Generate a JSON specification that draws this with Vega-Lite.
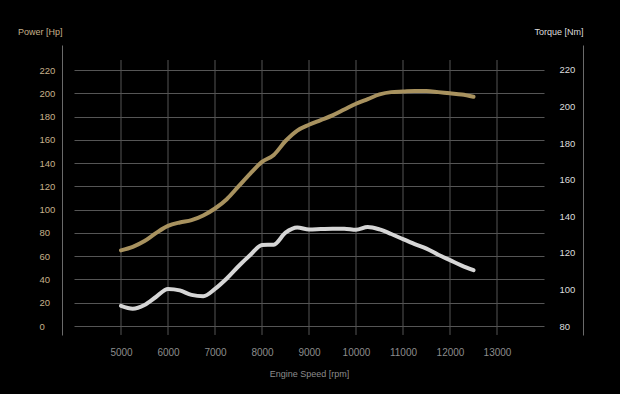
{
  "$schema": "https://vega.github.io/schema/vega-lite/v6.json",
  "autosize": "none",
  "width": 470,
  "height": 290,
  "padding": {"left": 74, "top": 45, "right": 76, "bottom": 59},
  "background": "#000000",
  "config": {
    "view": {"stroke": null},
    "font": "Liberation Sans"
  },
  "datasets": {
    "curves": [
      {"rpm": 5000, "power": 65, "torque": 91},
      {"rpm": 5250, "power": 68, "torque": 89.5},
      {"rpm": 5500, "power": 73, "torque": 91.5},
      {"rpm": 5750, "power": 80, "torque": 96},
      {"rpm": 6000, "power": 86, "torque": 100.3},
      {"rpm": 6250, "power": 89, "torque": 99.5},
      {"rpm": 6500, "power": 91, "torque": 97},
      {"rpm": 6750, "power": 95, "torque": 96.3},
      {"rpm": 7000, "power": 101, "torque": 100.3},
      {"rpm": 7250, "power": 109, "torque": 106},
      {"rpm": 7500, "power": 120, "torque": 112.7},
      {"rpm": 7750, "power": 131, "torque": 118.8},
      {"rpm": 8000, "power": 141, "torque": 124.3},
      {"rpm": 8250, "power": 147, "torque": 124.5},
      {"rpm": 8500, "power": 159, "torque": 131},
      {"rpm": 8750, "power": 168, "torque": 133.8},
      {"rpm": 9000, "power": 173, "torque": 132.8},
      {"rpm": 9250, "power": 177, "torque": 133},
      {"rpm": 9500, "power": 181, "torque": 133.2},
      {"rpm": 9750, "power": 186, "torque": 133.2},
      {"rpm": 10000, "power": 191, "torque": 132.6},
      {"rpm": 10250, "power": 195, "torque": 134.1},
      {"rpm": 10500, "power": 199, "torque": 132.8},
      {"rpm": 10750, "power": 201, "torque": 130.3},
      {"rpm": 11000, "power": 201.5, "torque": 127.5},
      {"rpm": 11250, "power": 202, "torque": 124.8},
      {"rpm": 11500, "power": 202, "torque": 122.3},
      {"rpm": 11750, "power": 201, "torque": 119},
      {"rpm": 12000, "power": 200, "torque": 116},
      {"rpm": 12250, "power": 199, "torque": 113},
      {"rpm": 12500, "power": 197, "torque": 110.5}
    ],
    "vgrid": [
      {"rpm": 5000}, {"rpm": 6000}, {"rpm": 7000}, {"rpm": 8000}, {"rpm": 9000},
      {"rpm": 10000}, {"rpm": 11000}, {"rpm": 12000}, {"rpm": 13000}
    ]
  },
  "layer": [
    {
      "data": {"name": "vgrid"},
      "mark": {"type": "rule", "color": "#555555", "strokeWidth": 1},
      "encoding": {
        "x": {
          "field": "rpm", "type": "quantitative",
          "scale": {"domain": [4000, 14000], "nice": false, "zero": false},
          "axis": {
            "values": [5000, 6000, 7000, 8000, 9000, 10000, 11000, 12000, 13000],
            "format": "d", "labelOverlap": false,
            "grid": false, "domain": false, "ticks": false, "tickSize": 0,
            "labelPadding": 12, "labelFontSize": 10, "labelColor": "#8c8c8c",
            "labelFont": "Liberation Sans",
            "title": "Engine Speed [rpm]", "titleFontSize": 9, "titleFontWeight": "normal",
            "titleColor": "#8c8c8c", "titleFont": "Liberation Sans",
            "titleY": 38, "titleBaseline": "middle"
          }
        },
        "y": {
          "datum": 228.6, "type": "quantitative",
          "scale": {"domain": [-7.73, 241.5], "nice": false, "zero": false},
          "axis": null
        },
        "y2": {"datum": -7.7}
      }
    },
    {
      "data": {"name": "curves"},
      "mark": {"type": "line", "interpolate": "monotone", "color": "#a8925f", "strokeWidth": 4, "strokeCap": "round"},
      "encoding": {
        "x": {"field": "rpm", "type": "quantitative"},
        "y": {
          "field": "power", "type": "quantitative",
          "scale": {"domain": [-7.73, 241.5], "nice": false, "zero": false},
          "axis": {
            "orient": "left", "offset": 12,
            "values": [0, 20, 40, 60, 80, 100, 120, 140, 160, 180, 200, 220],
            "labelOverlap": false,
            "grid": true, "gridColor": "#555555", "gridWidth": 1,
            "domain": true, "domainColor": "#6a6a6a", "domainWidth": 1,
            "ticks": false, "tickSize": 0,
            "labelAlign": "left", "labelPadding": 23, "labelBaseline": "middle",
            "labelFontSize": 9.5, "labelColor": "#c7b08a", "labelFont": "Liberation Sans",
            "title": "Power [Hp]", "titleAngle": 0, "titleAlign": "right", "titleBaseline": "middle",
            "titleX": 0, "titleY": -14, "titleFontSize": 9, "titleFontWeight": "normal",
            "titleColor": "#c7b08a", "titleFont": "Liberation Sans"
          }
        }
      }
    },
    {
      "data": {"name": "curves"},
      "mark": {"type": "line", "interpolate": "monotone", "color": "#d6d6d6", "strokeWidth": 4, "strokeCap": "round"},
      "encoding": {
        "x": {"field": "rpm", "type": "quantitative"},
        "y": {
          "field": "torque", "type": "quantitative",
          "scale": {"domain": [75.08, 233.67], "nice": false, "zero": false},
          "axis": {
            "orient": "right", "offset": 39,
            "values": [80, 100, 120, 140, 160, 180, 200, 220],
            "labelOverlap": false,
            "grid": false,
            "domain": true, "domainColor": "#6a6a6a", "domainWidth": 1,
            "ticks": false, "tickSize": 0,
            "labelAlign": "left", "labelPadding": -24, "labelBaseline": "middle",
            "labelFontSize": 9.5, "labelColor": "#dddddd", "labelFont": "Liberation Sans",
            "title": "Torque [Nm]", "titleAngle": 0, "titleAlign": "right", "titleBaseline": "middle",
            "titleX": 0, "titleY": -14, "titleFontSize": 9, "titleFontWeight": "normal",
            "titleColor": "#dddddd", "titleFont": "Liberation Sans"
          }
        }
      }
    }
  ],
  "resolve": {"scale": {"y": "independent"}}
}
